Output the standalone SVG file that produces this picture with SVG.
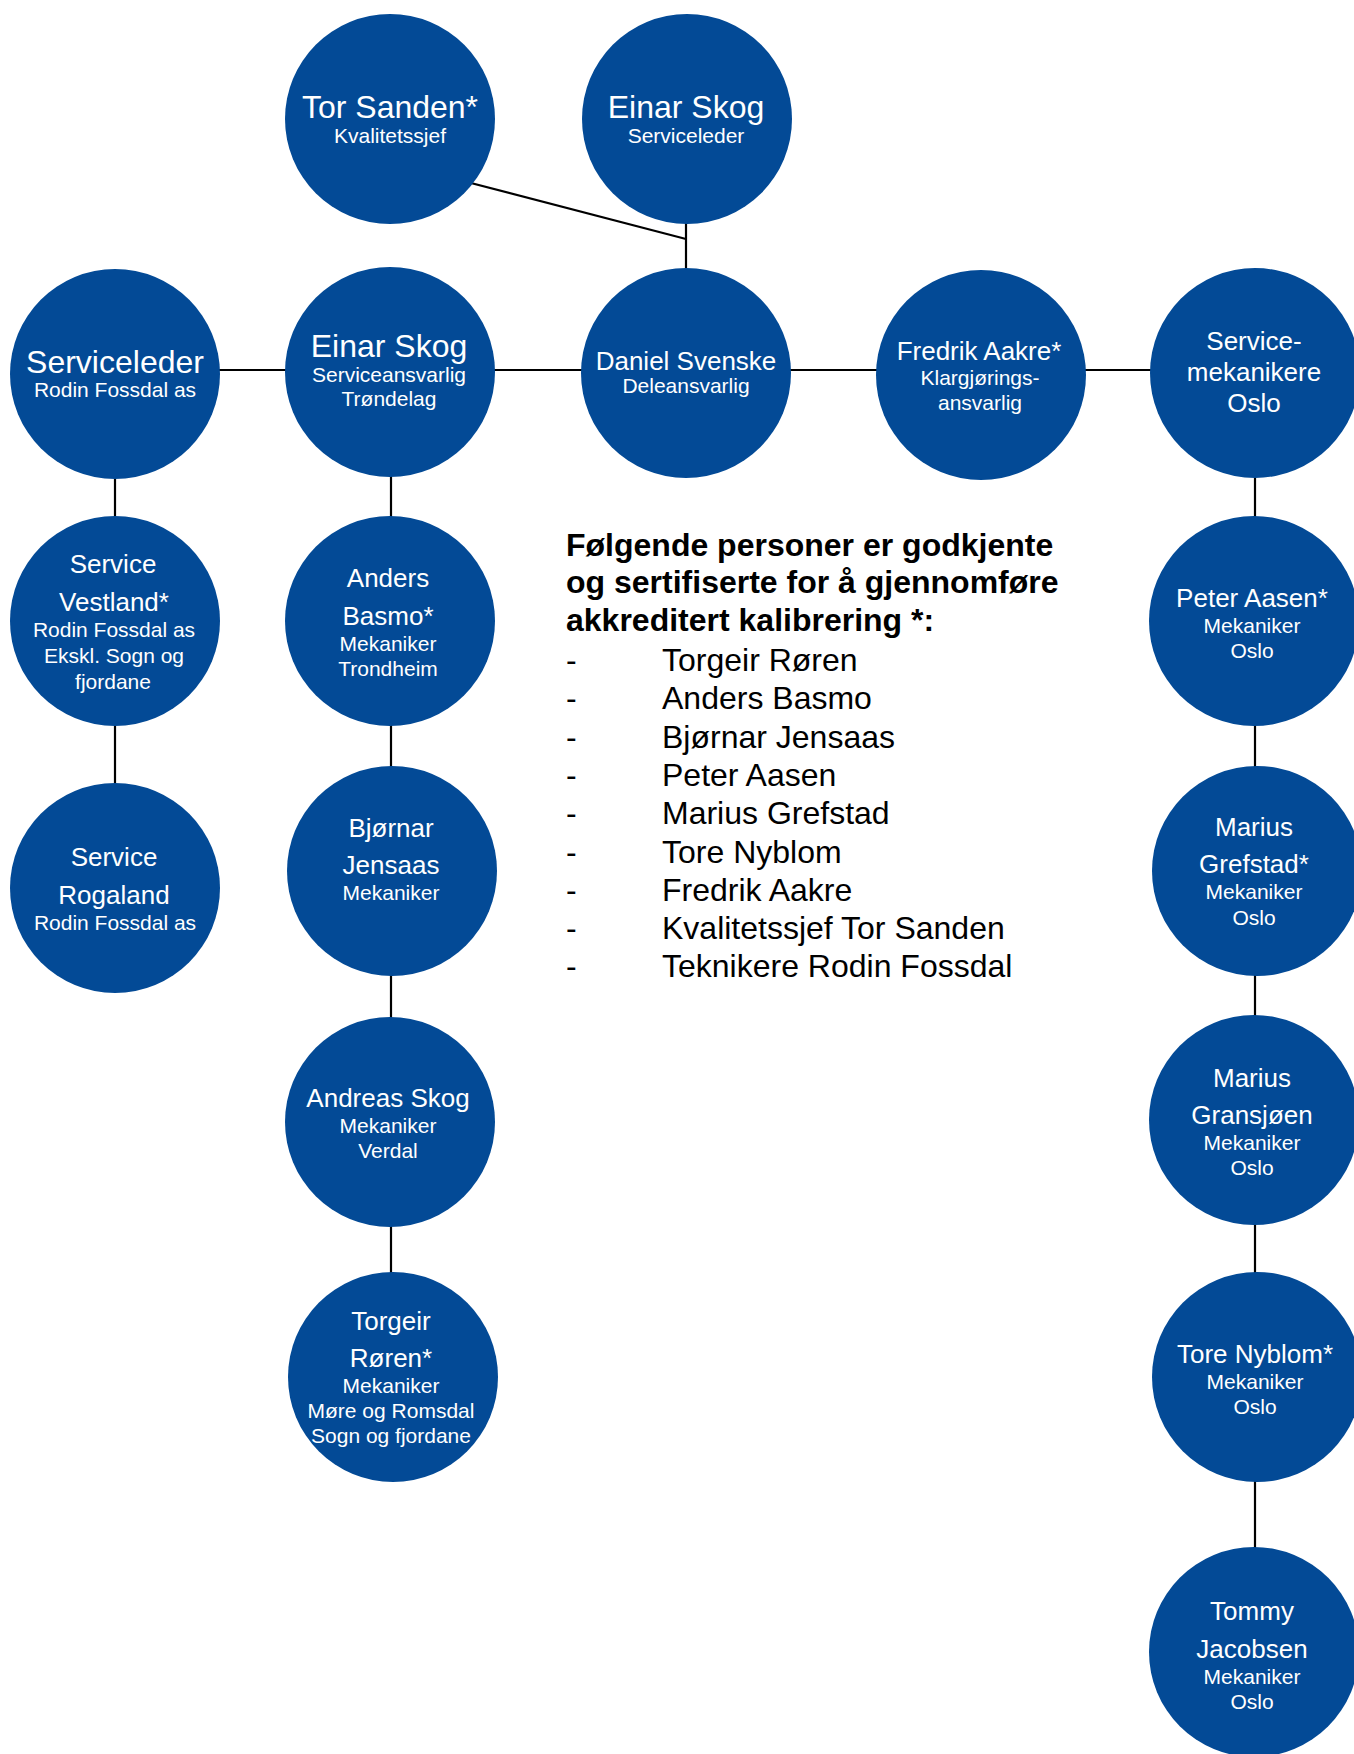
<svg xmlns="http://www.w3.org/2000/svg" width="1354" height="1754" viewBox="0 0 1354 1754">
<style>
.n{fill:#034A96}
text{font-family:"Liberation Sans",Arial,sans-serif;fill:#fff;text-anchor:middle}
.b{font-size:32px}
.m{font-size:26px}
.s{font-size:21px}
.c line{stroke:#000;stroke-width:2.2}
.lg text{fill:#000;text-anchor:start;font-size:32px}
.lg .h{font-weight:bold}
</style>
<rect width="1354" height="1754" fill="#fff"/>
<g class="c" id="connectors">
<line x1="440" y1="175" x2="686" y2="239"/>
<line x1="686" y1="200" x2="686" y2="290"/>
<line x1="115" y1="370" x2="1255" y2="370"/>
<line x1="115" y1="470" x2="115" y2="800"/>
<line x1="391" y1="470" x2="391" y2="1290"/>
<line x1="1255" y1="470" x2="1255" y2="1560"/>
</g>
<g id="tor"><circle class="n" cx="390" cy="119" r="105"/><text class="b" x="390" y="118">Tor Sanden*</text><text class="s" x="390" y="143">Kvalitetssjef</text></g>
<g id="einar1"><circle class="n" cx="687" cy="119" r="105"/><text class="b" x="686" y="118">Einar Skog</text><text class="s" x="686" y="143">Serviceleder</text></g>
<g id="serviceleder"><circle class="n" cx="115" cy="374" r="105"/><text class="b" x="115" y="373">Serviceleder</text><text class="s" x="115" y="397">Rodin Fossdal as</text></g>
<g id="einar2"><circle class="n" cx="390" cy="372" r="105"/><text class="b" x="389" y="357">Einar Skog</text><text class="s" x="389" y="382">Serviceansvarlig</text><text class="s" x="389" y="406">Trøndelag</text></g>
<g id="daniel"><circle class="n" cx="686" cy="373" r="105"/><text class="m" x="686" y="370">Daniel Svenske</text><text class="s" x="686" y="393">Deleansvarlig</text></g>
<g id="fredrik"><circle class="n" cx="981" cy="375" r="105"/><text class="m" x="979" y="360">Fredrik Aakre*</text><text class="s" x="980" y="385">Klargjørings-</text><text class="s" x="980" y="410">ansvarlig</text></g>
<g id="servmek"><circle class="n" cx="1255" cy="373" r="105"/><text class="m" x="1254" y="350">Service-</text><text class="m" x="1254" y="381">mekanikere</text><text class="m" x="1254" y="412">Oslo</text></g>
<g id="vestland"><circle class="n" cx="115" cy="621" r="105"/><text class="m" x="113" y="573">Service</text><text class="m" x="114" y="611">Vestland*</text><text class="s" x="114" y="637">Rodin Fossdal as</text><text class="s" x="114" y="663">Ekskl. Sogn og</text><text class="s" x="113" y="689">fjordane</text></g>
<g id="rogaland"><circle class="n" cx="115" cy="888" r="105"/><text class="m" x="114" y="866">Service</text><text class="m" x="114" y="904">Rogaland</text><text class="s" x="115" y="930">Rodin Fossdal as</text></g>
<g id="anders"><circle class="n" cx="390" cy="621" r="105"/><text class="m" x="388" y="587">Anders</text><text class="m" x="388" y="625">Basmo*</text><text class="s" x="388" y="651">Mekaniker</text><text class="s" x="388" y="676">Trondheim</text></g>
<g id="bjornar"><circle class="n" cx="392" cy="871" r="105"/><text class="m" x="391" y="837">Bjørnar</text><text class="m" x="391" y="874">Jensaas</text><text class="s" x="391" y="900">Mekaniker</text></g>
<g id="andreas"><circle class="n" cx="390" cy="1122" r="105"/><text class="m" x="388" y="1107">Andreas Skog</text><text class="s" x="388" y="1133">Mekaniker</text><text class="s" x="388" y="1158">Verdal</text></g>
<g id="torgeir"><circle class="n" cx="393" cy="1377" r="105"/><text class="m" x="391" y="1330">Torgeir</text><text class="m" x="391" y="1367">Røren*</text><text class="s" x="391" y="1393">Mekaniker</text><text class="s" x="391" y="1418">Møre og Romsdal</text><text class="s" x="391" y="1443">Sogn og fjordane</text></g>
<g id="peter"><circle class="n" cx="1254" cy="621" r="105"/><text class="m" x="1252" y="607">Peter Aasen*</text><text class="s" x="1252" y="633">Mekaniker</text><text class="s" x="1252" y="658">Oslo</text></g>
<g id="grefstad"><circle class="n" cx="1257" cy="871" r="105"/><text class="m" x="1254" y="836">Marius</text><text class="m" x="1254" y="873">Grefstad*</text><text class="s" x="1254" y="899">Mekaniker</text><text class="s" x="1254" y="925">Oslo</text></g>
<g id="gransjoen"><circle class="n" cx="1254" cy="1120" r="105"/><text class="m" x="1252" y="1087">Marius</text><text class="m" x="1252" y="1124">Gransjøen</text><text class="s" x="1252" y="1150">Mekaniker</text><text class="s" x="1252" y="1175">Oslo</text></g>
<g id="nyblom"><circle class="n" cx="1257" cy="1377" r="105"/><text class="m" x="1255" y="1363">Tore Nyblom*</text><text class="s" x="1255" y="1389">Mekaniker</text><text class="s" x="1255" y="1414">Oslo</text></g>
<g id="tommy"><circle class="n" cx="1254" cy="1652" r="105"/><text class="m" x="1252" y="1620">Tommy</text><text class="m" x="1252" y="1658">Jacobsen</text><text class="s" x="1252" y="1684">Mekaniker</text><text class="s" x="1252" y="1709">Oslo</text></g>
<g class="lg" id="legend">
<text class="h" x="566" y="556">Følgende personer er godkjente</text>
<text class="h" x="566" y="593">og sertifiserte for å gjennomføre</text>
<text class="h" x="566" y="631">akkreditert kalibrering *:</text>
<text x="566" y="671">-</text><text x="662" y="671">Torgeir Røren</text>
<text x="566" y="709">-</text><text x="662" y="709">Anders Basmo</text>
<text x="566" y="748">-</text><text x="662" y="748">Bjørnar Jensaas</text>
<text x="566" y="786">-</text><text x="662" y="786">Peter Aasen</text>
<text x="566" y="824">-</text><text x="662" y="824">Marius Grefstad</text>
<text x="566" y="863">-</text><text x="662" y="863">Tore Nyblom</text>
<text x="566" y="901">-</text><text x="662" y="901">Fredrik Aakre</text>
<text x="566" y="939">-</text><text x="662" y="939">Kvalitetssjef Tor Sanden</text>
<text x="566" y="977">-</text><text x="662" y="977">Teknikere Rodin Fossdal</text>
</g>
</svg>
